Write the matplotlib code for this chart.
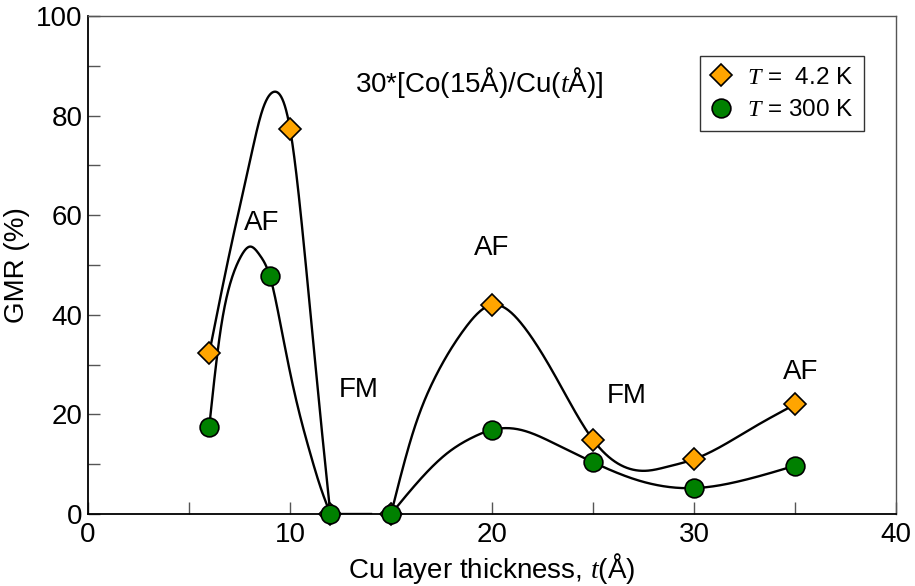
import numpy as np
import matplotlib
matplotlib.use("Agg")
import matplotlib.pyplot as plt
from matplotlib.ticker import MultipleLocator

plt.rcParams['font.family'] = ['Liberation Sans', 'DejaVu Sans']
plt.rcParams['mathtext.fontset'] = 'custom'
plt.rcParams['mathtext.it'] = 'Liberation Serif:italic'
plt.rcParams['mathtext.rm'] = 'Liberation Sans'

# ---- measured data ----
t_42 = [6, 10, 12, 15, 20, 25, 30, 35]
gmr_42 = [32.3, 77.4, 0, 0, 42.0, 14.9, 11.0, 22.0]
t_300 = [6, 9, 12, 15, 20, 25, 30, 35]
gmr_300 = [17.5, 47.8, 0, 0, 16.9, 10.4, 5.2, 9.7]

# ---- guide-curve knots ----
g42a_x = [6.0, 7.04, 8.03, 8.61, 9.24, 10.0, 10.76, 11.59, 12.0]
g42a_y = [32.3, 53.0, 71.1, 80.8, 84.8, 77.4, 51.0, 16.2, 0.0]
g300a_x = [6.0, 6.54, 7.04, 7.54, 8.03, 8.5, 9.0, 9.52, 10.01, 10.51, 11.0, 11.5, 12.0]
g300a_y = [17.5, 36.3, 46.3, 51.5, 53.7, 52.0, 47.8, 38.3, 28.3, 19.5, 12.2, 5.5, 0.0]
g42b_x = [15.0, 16.13, 17.29, 18.61, 20.0, 21.58, 23.24, 25.0, 26.38, 27.7, 28.69, 30.0, 32.99, 35.0]
g42b_y = [0.0, 16.9, 28.3, 37.0, 42.0, 37.6, 26.9, 14.9, 9.8, 8.7, 9.5, 11.0, 17.5, 22.0]
g300b_x = [15.0, 16.13, 17.78, 19.1, 20.0, 21.42, 23.07, 25.0, 27.2, 30.0, 32.16, 35.0]
g300b_y = [0.0, 5.5, 12.2, 15.5, 16.9, 16.9, 14.2, 10.4, 6.8, 5.2, 6.5, 9.7]
flat_x = [12.0, 14.0]
flat_y = [0.0, 0.0]

labels = ["AF", "FM", "AF", "FM", "AF"]
label_x = [8.61, 13.4, 19.98, 26.67, 35.27]
label_y = [58.4, 24.9, 53.4, 23.7, 28.6]


def natural_spline(x, y, n=400):
    x = np.asarray(x, float)
    y = np.asarray(y, float)
    m = len(x)
    h = np.diff(x)
    A = np.zeros((m, m))
    b = np.zeros(m)
    A[0, 0] = 1
    A[-1, -1] = 1
    for i in range(1, m - 1):
        A[i, i - 1] = h[i - 1]
        A[i, i] = 2 * (h[i - 1] + h[i])
        A[i, i + 1] = h[i]
        b[i] = 6 * ((y[i + 1] - y[i]) / h[i] - (y[i] - y[i - 1]) / h[i - 1])
    M = np.linalg.solve(A, b)
    xs = np.linspace(x[0], x[-1], n)
    idx = np.clip(np.searchsorted(x, xs) - 1, 0, m - 2)
    x0, x1 = x[idx], x[idx + 1]
    hh = x1 - x0
    a = (x1 - xs) / hh
    c = (xs - x0) / hh
    ys = (a * y[idx] + c * y[idx + 1]
          + ((a ** 3 - a) * M[idx] + (c ** 3 - c) * M[idx + 1]) * hh ** 2 / 6)
    return xs, ys


fig = plt.figure(figsize=(9.15, 5.86), dpi=100)
ax = fig.add_axes([88 / 915, 72 / 586, 808 / 915, 498 / 586])

lw = 1.7
for gx, gy in [(g42a_x, g42a_y), (g300a_x, g300a_y), (g42b_x, g42b_y), (g300b_x, g300b_y)]:
    xs, ys = natural_spline(gx, gy)
    ax.plot(xs, ys, color='black', lw=lw, zorder=3, solid_capstyle='butt')
ax.plot(flat_x, flat_y, color='black', lw=lw, zorder=3)

ax.plot(t_42, gmr_42, linestyle='none', marker='D', ms=11.7, mfc='#FFA500',
        mec='black', mew=1.2, zorder=4, label=r'$T$ =  4.2 K', clip_on=False)
ax.plot(t_300, gmr_300, linestyle='none', marker='o', ms=13.5, mfc='#008000',
        mec='black', mew=1.2, zorder=5, label=r'$T$ = 300 K', clip_on=False)

for s, x, y in zip(labels, label_x, label_y):
    ax.text(x, y, s, fontsize=20, ha='center', va='center', zorder=6)

ax.text(19.37, 86.7, r'30*[Co(15Å)/Cu($t$Å)]', fontsize=20, ha='center',
        va='center', zorder=6)

ax.set_xlim(0, 40)
ax.set_ylim(0, 100)
ax.xaxis.set_major_locator(MultipleLocator(10))
ax.xaxis.set_minor_locator(MultipleLocator(5))
ax.yaxis.set_major_locator(MultipleLocator(20))
ax.yaxis.set_minor_locator(MultipleLocator(10))
ax.tick_params(which='both', direction='in', length=8.6, width=1,
               color='#555555', labelsize=20, top=False, right=False)
ax.tick_params(axis='x', pad=6)
ax.tick_params(axis='y', pad=4)

for side in ['left', 'bottom']:
    ax.spines[side].set_color('black')
    ax.spines[side].set_linewidth(1.3)
for side in ['top', 'right']:
    ax.spines[side].set_color('#555555')
    ax.spines[side].set_linewidth(1.0)

ax.set_xlabel(r'Cu layer thickness, $t$(Å)', fontsize=20, labelpad=2)
ax.set_ylabel('GMR (%)', fontsize=20, labelpad=4)

leg = ax.legend(loc='upper right', bbox_to_anchor=(0.960, 0.919), fontsize=17.5,
                frameon=True, fancybox=False, edgecolor='black',
                handletextpad=0.6, borderpad=0.43, labelspacing=0.42,
                handlelength=0.9, borderaxespad=0)
leg.get_frame().set_linewidth(1.0)

fig.savefig('out.png', dpi=100)
